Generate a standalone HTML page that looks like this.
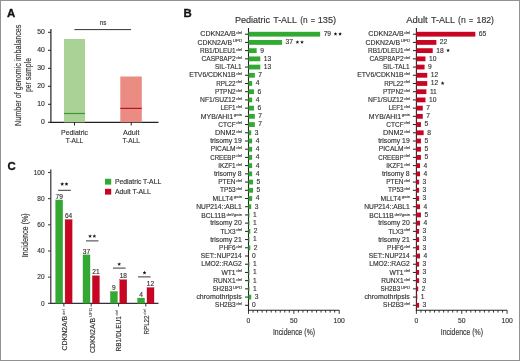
<!DOCTYPE html>
<html><head><meta charset="utf-8"><style>
html,body{margin:0;padding:0;background:#fff;}
#f{position:absolute;left:0;top:0;width:520px;height:361px;box-sizing:border-box;border:1px solid #929292;background:#fff;overflow:hidden;}
svg{position:absolute;left:-1px;top:-1px;will-change:transform;}
text{font-family:"Liberation Sans",sans-serif;}
</style></head><body><div id="f">
<svg width="520" height="361" viewBox="0 0 520 361">
<text x="7.00" y="17.10" font-size="11.4" text-anchor="start" fill="#111" stroke="#111" stroke-width="0.3" font-weight="bold">A</text>
<text x="183.60" y="17.30" font-size="11.4" text-anchor="start" fill="#111" stroke="#111" stroke-width="0.3" font-weight="bold">B</text>
<text x="7.40" y="170.30" font-size="11.4" text-anchor="start" fill="#111" stroke="#111" stroke-width="0.3" font-weight="bold">C</text>
<line x1="50.90" y1="29.00" x2="50.90" y2="122.90" stroke="#222" stroke-width="1.2"/>
<line x1="50.30" y1="122.30" x2="158.50" y2="122.30" stroke="#222" stroke-width="1.2"/>
<line x1="48.00" y1="122.30" x2="50.90" y2="122.30" stroke="#222" stroke-width="1"/>
<text x="44.80" y="124.40" font-size="6.8" text-anchor="end" fill="#333" stroke="#333" stroke-width="0.15" font-weight="normal">0</text>
<line x1="48.00" y1="104.30" x2="50.90" y2="104.30" stroke="#222" stroke-width="1"/>
<text x="44.80" y="106.40" font-size="6.8" text-anchor="end" fill="#333" stroke="#333" stroke-width="0.15" font-weight="normal">10</text>
<line x1="48.00" y1="86.30" x2="50.90" y2="86.30" stroke="#222" stroke-width="1"/>
<text x="44.80" y="88.40" font-size="6.8" text-anchor="end" fill="#333" stroke="#333" stroke-width="0.15" font-weight="normal">20</text>
<line x1="48.00" y1="68.30" x2="50.90" y2="68.30" stroke="#222" stroke-width="1"/>
<text x="44.80" y="70.40" font-size="6.8" text-anchor="end" fill="#333" stroke="#333" stroke-width="0.15" font-weight="normal">30</text>
<line x1="48.00" y1="50.30" x2="50.90" y2="50.30" stroke="#222" stroke-width="1"/>
<text x="44.80" y="52.40" font-size="6.8" text-anchor="end" fill="#333" stroke="#333" stroke-width="0.15" font-weight="normal">40</text>
<line x1="48.00" y1="32.30" x2="50.90" y2="32.30" stroke="#222" stroke-width="1"/>
<text x="44.80" y="34.40" font-size="6.8" text-anchor="end" fill="#333" stroke="#333" stroke-width="0.15" font-weight="normal">50</text>
<rect x="64.00" y="39.00" width="21.00" height="83.30" fill="#aad296"/>
<line x1="64.00" y1="113.50" x2="85.00" y2="113.50" stroke="#3c963c" stroke-width="1.2"/>
<rect x="120.30" y="76.50" width="21.50" height="45.80" fill="#eb8c82"/>
<line x1="120.30" y1="108.40" x2="141.80" y2="108.40" stroke="#b41428" stroke-width="1.2"/>
<line x1="74.50" y1="122.30" x2="74.50" y2="125.50" stroke="#222" stroke-width="1"/>
<line x1="131.20" y1="122.30" x2="131.20" y2="125.50" stroke="#222" stroke-width="1"/>
<line x1="74.40" y1="29.60" x2="131.10" y2="29.60" stroke="#333" stroke-width="1.0"/>
<text x="103.00" y="25.30" font-size="7.4" text-anchor="middle" fill="#333" stroke="#333" stroke-width="0.15" font-weight="normal" textLength="6.60" lengthAdjust="spacingAndGlyphs">ns</text>
<text x="74.50" y="134.90" font-size="7.4" text-anchor="middle" fill="#333" stroke="#333" stroke-width="0.15" font-weight="normal" textLength="27.00" lengthAdjust="spacingAndGlyphs">Pediatric</text>
<text x="74.50" y="142.70" font-size="7.4" text-anchor="middle" fill="#333" stroke="#333" stroke-width="0.15" font-weight="normal" textLength="17.50" lengthAdjust="spacingAndGlyphs">T-ALL</text>
<text x="131.20" y="134.90" font-size="7.4" text-anchor="middle" fill="#333" stroke="#333" stroke-width="0.15" font-weight="normal" textLength="16.40" lengthAdjust="spacingAndGlyphs">Adult</text>
<text x="131.20" y="142.70" font-size="7.4" text-anchor="middle" fill="#333" stroke="#333" stroke-width="0.15" font-weight="normal" textLength="17.50" lengthAdjust="spacingAndGlyphs">T-ALL</text>
<g transform="translate(20.8,75.3) rotate(-90)">
<text x="0.00" y="0.00" font-size="8.7" text-anchor="middle" fill="#333" stroke="#333" stroke-width="0.15" font-weight="normal" textLength="101.40" lengthAdjust="spacingAndGlyphs">Number of genomic imbalances</text>
</g>
<g transform="translate(31.1,75.0) rotate(-90)">
<text x="0.00" y="0.00" font-size="8.7" text-anchor="middle" fill="#333" stroke="#333" stroke-width="0.15" font-weight="normal" textLength="34.20" lengthAdjust="spacingAndGlyphs">per sample</text>
</g>
<line x1="50.80" y1="169.50" x2="50.80" y2="303.90" stroke="#3a2f3e" stroke-width="1.2"/>
<line x1="50.20" y1="303.30" x2="158.50" y2="303.30" stroke="#3a2f3e" stroke-width="1.2"/>
<line x1="48.00" y1="303.30" x2="50.80" y2="303.30" stroke="#3a2f3e" stroke-width="1"/>
<text x="44.60" y="305.60" font-size="7.0" text-anchor="end" fill="#333" stroke="#333" stroke-width="0.15" font-weight="normal" textLength="3.62" lengthAdjust="spacingAndGlyphs">0</text>
<line x1="48.00" y1="277.14" x2="50.80" y2="277.14" stroke="#3a2f3e" stroke-width="1"/>
<text x="44.60" y="279.44" font-size="7.0" text-anchor="end" fill="#333" stroke="#333" stroke-width="0.15" font-weight="normal" textLength="7.24" lengthAdjust="spacingAndGlyphs">20</text>
<line x1="48.00" y1="250.98" x2="50.80" y2="250.98" stroke="#3a2f3e" stroke-width="1"/>
<text x="44.60" y="253.28" font-size="7.0" text-anchor="end" fill="#333" stroke="#333" stroke-width="0.15" font-weight="normal" textLength="7.24" lengthAdjust="spacingAndGlyphs">40</text>
<line x1="48.00" y1="224.82" x2="50.80" y2="224.82" stroke="#3a2f3e" stroke-width="1"/>
<text x="44.60" y="227.12" font-size="7.0" text-anchor="end" fill="#333" stroke="#333" stroke-width="0.15" font-weight="normal" textLength="7.24" lengthAdjust="spacingAndGlyphs">60</text>
<line x1="48.00" y1="198.66" x2="50.80" y2="198.66" stroke="#3a2f3e" stroke-width="1"/>
<text x="44.60" y="200.96" font-size="7.0" text-anchor="end" fill="#333" stroke="#333" stroke-width="0.15" font-weight="normal" textLength="7.24" lengthAdjust="spacingAndGlyphs">80</text>
<line x1="48.00" y1="172.50" x2="50.80" y2="172.50" stroke="#3a2f3e" stroke-width="1"/>
<text x="44.60" y="174.80" font-size="7.0" text-anchor="end" fill="#333" stroke="#333" stroke-width="0.15" font-weight="normal" textLength="10.86" lengthAdjust="spacingAndGlyphs">100</text>
<rect x="55.70" y="199.97" width="7.00" height="103.33" fill="#32aa32" stroke="#3a8f3a" stroke-width="0.35"/>
<rect x="65.10" y="219.59" width="7.00" height="83.71" fill="#c80523" stroke="#a8101f" stroke-width="0.35"/>
<text x="59.20" y="198.57" font-size="6.8" text-anchor="middle" fill="#333" stroke="#333" stroke-width="0.15" font-weight="normal" textLength="7.34" lengthAdjust="spacingAndGlyphs">79</text>
<text x="68.60" y="218.19" font-size="6.8" text-anchor="middle" fill="#333" stroke="#333" stroke-width="0.15" font-weight="normal" textLength="7.34" lengthAdjust="spacingAndGlyphs">64</text>
<line x1="63.90" y1="303.30" x2="63.90" y2="306.50" stroke="#3a2f3e" stroke-width="1"/>
<line x1="58.10" y1="190.30" x2="70.90" y2="190.30" stroke="#222" stroke-width="0.9"/>
<polygon points="62.20,182.10 62.73,183.37 64.10,183.48 63.06,184.38 63.38,185.72 62.20,185.00 61.02,185.72 61.34,184.38 60.30,183.48 61.67,183.37" fill="#1a1a1a"/>
<polygon points="66.50,182.10 67.03,183.37 68.40,183.48 67.36,184.38 67.68,185.72 66.50,185.00 65.32,185.72 65.64,184.38 64.60,183.48 65.97,183.37" fill="#1a1a1a"/>
<rect x="83.00" y="254.90" width="7.00" height="48.40" fill="#32aa32" stroke="#3a8f3a" stroke-width="0.35"/>
<rect x="92.40" y="275.83" width="7.00" height="27.47" fill="#c80523" stroke="#a8101f" stroke-width="0.35"/>
<text x="86.50" y="253.50" font-size="6.8" text-anchor="middle" fill="#333" stroke="#333" stroke-width="0.15" font-weight="normal" textLength="7.34" lengthAdjust="spacingAndGlyphs">37</text>
<text x="95.90" y="274.43" font-size="6.8" text-anchor="middle" fill="#333" stroke="#333" stroke-width="0.15" font-weight="normal" textLength="7.34" lengthAdjust="spacingAndGlyphs">21</text>
<line x1="91.20" y1="303.30" x2="91.20" y2="306.50" stroke="#3a2f3e" stroke-width="1"/>
<line x1="86.00" y1="240.90" x2="98.50" y2="240.90" stroke="#222" stroke-width="0.9"/>
<polygon points="90.05,234.20 90.58,235.47 91.95,235.58 90.91,236.48 91.23,237.82 90.05,237.10 88.87,237.82 89.19,236.48 88.15,235.58 89.52,235.47" fill="#1a1a1a"/>
<polygon points="94.35,234.20 94.88,235.47 96.25,235.58 95.21,236.48 95.53,237.82 94.35,237.10 93.17,237.82 93.49,236.48 92.45,235.58 93.82,235.47" fill="#1a1a1a"/>
<rect x="110.40" y="291.53" width="7.00" height="11.77" fill="#32aa32" stroke="#3a8f3a" stroke-width="0.35"/>
<rect x="119.80" y="279.76" width="7.00" height="23.54" fill="#c80523" stroke="#a8101f" stroke-width="0.35"/>
<text x="113.90" y="290.13" font-size="6.8" text-anchor="middle" fill="#333" stroke="#333" stroke-width="0.15" font-weight="normal" textLength="3.67" lengthAdjust="spacingAndGlyphs">9</text>
<text x="123.30" y="278.36" font-size="6.8" text-anchor="middle" fill="#333" stroke="#333" stroke-width="0.15" font-weight="normal" textLength="7.34" lengthAdjust="spacingAndGlyphs">18</text>
<line x1="118.60" y1="303.30" x2="118.60" y2="306.50" stroke="#3a2f3e" stroke-width="1"/>
<line x1="113.00" y1="268.10" x2="125.60" y2="268.10" stroke="#222" stroke-width="0.9"/>
<polygon points="119.20,262.20 119.73,263.47 121.10,263.58 120.06,264.48 120.38,265.82 119.20,265.10 118.02,265.82 118.34,264.48 117.30,263.58 118.67,263.47" fill="#1a1a1a"/>
<rect x="137.60" y="298.07" width="7.00" height="5.23" fill="#32aa32" stroke="#3a8f3a" stroke-width="0.35"/>
<rect x="147.00" y="287.60" width="7.00" height="15.70" fill="#c80523" stroke="#a8101f" stroke-width="0.35"/>
<text x="141.10" y="296.67" font-size="6.8" text-anchor="middle" fill="#333" stroke="#333" stroke-width="0.15" font-weight="normal" textLength="3.67" lengthAdjust="spacingAndGlyphs">4</text>
<text x="150.50" y="286.20" font-size="6.8" text-anchor="middle" fill="#333" stroke="#333" stroke-width="0.15" font-weight="normal" textLength="7.34" lengthAdjust="spacingAndGlyphs">12</text>
<line x1="145.80" y1="303.30" x2="145.80" y2="306.50" stroke="#3a2f3e" stroke-width="1"/>
<line x1="138.00" y1="276.90" x2="150.60" y2="276.90" stroke="#222" stroke-width="0.9"/>
<polygon points="144.50,270.80 145.03,272.07 146.40,272.18 145.36,273.08 145.68,274.42 144.50,273.70 143.32,274.42 143.64,273.08 142.60,272.18 143.97,272.07" fill="#1a1a1a"/>
<rect x="105.00" y="178.80" width="6.20" height="5.80" fill="#32aa32"/>
<rect x="105.00" y="188.80" width="6.20" height="5.80" fill="#c80523"/>
<text x="114.90" y="184.10" font-size="6.9" text-anchor="start" fill="#333" stroke="#333" stroke-width="0.15" font-weight="normal" textLength="46.30" lengthAdjust="spacingAndGlyphs">Pediatric T-ALL</text>
<text x="114.90" y="194.30" font-size="6.9" text-anchor="start" fill="#333" stroke="#333" stroke-width="0.15" font-weight="normal" textLength="35.90" lengthAdjust="spacingAndGlyphs">Adult T-ALL</text>
<g transform="translate(28.4,235.3) rotate(-90)">
<text x="0.00" y="0.00" font-size="8.4" text-anchor="middle" fill="#333" stroke="#333" stroke-width="0.15" font-weight="normal" textLength="44.00" lengthAdjust="spacingAndGlyphs">Incidence (%)</text>
</g>
<g transform="translate(67.20,350.40) rotate(-90)">
<text x="0" y="0" font-size="7.0" fill="#333" stroke="#333" stroke-width="0.15"><tspan textLength="34.6" lengthAdjust="spacingAndGlyphs">CDKN2A/B</tspan><tspan font-size="4.2" dx="0.8" dy="-2.6" stroke-width="0.05">del</tspan></text>
</g>
<g transform="translate(94.80,353.00) rotate(-90)">
<text x="0" y="0" font-size="7.0" fill="#333" stroke="#333" stroke-width="0.15"><tspan textLength="35.3" lengthAdjust="spacingAndGlyphs">CDKN2A/B</tspan><tspan font-size="4.2" dx="0.8" dy="-2.6" stroke-width="0.05">UPD</tspan></text>
</g>
<g transform="translate(121.00,351.50) rotate(-90)">
<text x="0" y="0" font-size="7.0" fill="#333" stroke="#333" stroke-width="0.15"><tspan textLength="35.3" lengthAdjust="spacingAndGlyphs">RB1/DLEU1</tspan><tspan font-size="4.2" dx="0.8" dy="-2.6" stroke-width="0.05">del</tspan></text>
</g>
<g transform="translate(149.00,334.50) rotate(-90)">
<text x="0" y="0" font-size="7.0" fill="#333" stroke="#333" stroke-width="0.15"><tspan textLength="19.0" lengthAdjust="spacingAndGlyphs">RPL22</tspan><tspan font-size="4.2" dx="0.8" dy="-2.6" stroke-width="0.05">del</tspan></text>
</g>
<text x="234.90" y="22.90" font-size="9.4" text-anchor="start" fill="#333" stroke="#333" stroke-width="0.15" font-weight="normal" textLength="35.20" lengthAdjust="spacingAndGlyphs">Pediatric</text>
<text x="273.20" y="22.90" font-size="9.4" text-anchor="start" fill="#333" stroke="#333" stroke-width="0.15" font-weight="normal" textLength="23.78" lengthAdjust="spacingAndGlyphs">T-ALL</text>
<text x="300.30" y="22.90" font-size="9.4" text-anchor="start" fill="#333" stroke="#333" stroke-width="0.15" font-weight="normal" textLength="7.39" lengthAdjust="spacingAndGlyphs">(n</text>
<text x="310.80" y="22.90" font-size="9.4" text-anchor="start" fill="#333" stroke="#333" stroke-width="0.15" font-weight="normal" textLength="4.23" lengthAdjust="spacingAndGlyphs">=</text>
<text x="317.70" y="22.90" font-size="9.4" text-anchor="start" fill="#333" stroke="#333" stroke-width="0.15" font-weight="normal" textLength="18.51" lengthAdjust="spacingAndGlyphs">135)</text>
<line x1="248.50" y1="27.90" x2="248.50" y2="310.80" stroke="#222" stroke-width="1.1"/>
<line x1="248.00" y1="310.20" x2="339.20" y2="310.20" stroke="#222" stroke-width="1.1"/>
<line x1="248.50" y1="310.20" x2="248.50" y2="313.80" stroke="#222" stroke-width="0.9"/>
<line x1="253.03" y1="310.20" x2="253.03" y2="312.60" stroke="#222" stroke-width="0.9"/>
<line x1="257.57" y1="310.20" x2="257.57" y2="312.60" stroke="#222" stroke-width="0.9"/>
<line x1="262.11" y1="310.20" x2="262.11" y2="312.60" stroke="#222" stroke-width="0.9"/>
<line x1="266.64" y1="310.20" x2="266.64" y2="312.60" stroke="#222" stroke-width="0.9"/>
<line x1="271.18" y1="310.20" x2="271.18" y2="312.60" stroke="#222" stroke-width="0.9"/>
<line x1="275.71" y1="310.20" x2="275.71" y2="312.60" stroke="#222" stroke-width="0.9"/>
<line x1="280.25" y1="310.20" x2="280.25" y2="312.60" stroke="#222" stroke-width="0.9"/>
<line x1="284.78" y1="310.20" x2="284.78" y2="312.60" stroke="#222" stroke-width="0.9"/>
<line x1="289.31" y1="310.20" x2="289.31" y2="312.60" stroke="#222" stroke-width="0.9"/>
<line x1="293.85" y1="310.20" x2="293.85" y2="313.80" stroke="#222" stroke-width="0.9"/>
<line x1="298.38" y1="310.20" x2="298.38" y2="312.60" stroke="#222" stroke-width="0.9"/>
<line x1="302.92" y1="310.20" x2="302.92" y2="312.60" stroke="#222" stroke-width="0.9"/>
<line x1="307.45" y1="310.20" x2="307.45" y2="312.60" stroke="#222" stroke-width="0.9"/>
<line x1="311.99" y1="310.20" x2="311.99" y2="312.60" stroke="#222" stroke-width="0.9"/>
<line x1="316.52" y1="310.20" x2="316.52" y2="312.60" stroke="#222" stroke-width="0.9"/>
<line x1="321.06" y1="310.20" x2="321.06" y2="312.60" stroke="#222" stroke-width="0.9"/>
<line x1="325.60" y1="310.20" x2="325.60" y2="312.60" stroke="#222" stroke-width="0.9"/>
<line x1="330.13" y1="310.20" x2="330.13" y2="312.60" stroke="#222" stroke-width="0.9"/>
<line x1="334.66" y1="310.20" x2="334.66" y2="312.60" stroke="#222" stroke-width="0.9"/>
<line x1="339.20" y1="310.20" x2="339.20" y2="313.80" stroke="#222" stroke-width="0.9"/>
<text x="248.50" y="323.00" font-size="7.0" text-anchor="middle" fill="#333" stroke="#333" stroke-width="0.15" font-weight="normal" textLength="3.78" lengthAdjust="spacingAndGlyphs">0</text>
<text x="293.85" y="323.00" font-size="7.0" text-anchor="middle" fill="#333" stroke="#333" stroke-width="0.15" font-weight="normal" textLength="7.55" lengthAdjust="spacingAndGlyphs">50</text>
<text x="339.20" y="323.00" font-size="7.0" text-anchor="middle" fill="#333" stroke="#333" stroke-width="0.15" font-weight="normal" textLength="11.33" lengthAdjust="spacingAndGlyphs">100</text>
<text x="272.90" y="334.90" font-size="8.4" text-anchor="start" fill="#333" stroke="#333" stroke-width="0.15" font-weight="normal" textLength="42.22" lengthAdjust="spacingAndGlyphs">Incidence (%)</text>
<line x1="245.00" y1="34.20" x2="248.50" y2="34.20" stroke="#222" stroke-width="1"/>
<rect x="248.50" y="31.80" width="71.65" height="4.80" fill="#32aa32"/>
<text x="323.65" y="36.10" font-size="7.2" text-anchor="start" fill="#333" stroke="#333" stroke-width="0.15" font-weight="normal" textLength="7.45" lengthAdjust="spacingAndGlyphs">79</text>
<polygon points="335.50,32.05 336.02,33.29 337.35,33.40 336.33,34.27 336.65,35.58 335.50,34.88 334.35,35.58 334.67,34.27 333.65,33.40 334.98,33.29" fill="#1a1a1a"/>
<polygon points="340.10,32.05 340.62,33.29 341.95,33.40 340.93,34.27 341.25,35.58 340.10,34.88 338.95,35.58 339.27,34.27 338.25,33.40 339.58,33.29" fill="#1a1a1a"/>
<text x="200.30" y="36.40" font-size="7.0" fill="#333" stroke="#333" stroke-width="0.15"><tspan textLength="35.30" lengthAdjust="spacingAndGlyphs">CDKN2A/B</tspan><tspan font-size="3.9" dx="0.6" dy="-2.3" stroke-width="0.1" textLength="6.00" lengthAdjust="spacingAndGlyphs">del</tspan></text>
<line x1="245.00" y1="42.42" x2="248.50" y2="42.42" stroke="#222" stroke-width="1"/>
<rect x="248.50" y="40.02" width="33.56" height="4.80" fill="#32aa32"/>
<text x="285.56" y="44.32" font-size="7.2" text-anchor="start" fill="#333" stroke="#333" stroke-width="0.15" font-weight="normal" textLength="7.45" lengthAdjust="spacingAndGlyphs">37</text>
<polygon points="297.41,40.27 297.92,41.51 299.26,41.61 298.24,42.49 298.55,43.79 297.41,43.09 296.26,43.79 296.57,42.49 295.55,41.61 296.89,41.51" fill="#1a1a1a"/>
<polygon points="302.01,40.27 302.52,41.51 303.86,41.61 302.84,42.49 303.15,43.79 302.01,43.09 300.86,43.79 301.17,42.49 300.15,41.61 301.49,41.51" fill="#1a1a1a"/>
<text x="197.50" y="44.62" font-size="7.0" fill="#333" stroke="#333" stroke-width="0.15"><tspan textLength="34.60" lengthAdjust="spacingAndGlyphs">CDKN2A/B</tspan><tspan font-size="3.9" dx="0.6" dy="-2.3" stroke-width="0.1" textLength="9.50" lengthAdjust="spacingAndGlyphs">UPD</tspan></text>
<line x1="245.00" y1="50.63" x2="248.50" y2="50.63" stroke="#222" stroke-width="1"/>
<rect x="248.50" y="48.23" width="8.16" height="4.80" fill="#32aa32"/>
<text x="260.16" y="52.53" font-size="7.2" text-anchor="start" fill="#333" stroke="#333" stroke-width="0.15" font-weight="normal" textLength="3.72" lengthAdjust="spacingAndGlyphs">9</text>
<text x="200.00" y="52.83" font-size="7.0" fill="#333" stroke="#333" stroke-width="0.15"><tspan textLength="35.60" lengthAdjust="spacingAndGlyphs">RB1/DLEU1</tspan><tspan font-size="3.9" dx="0.6" dy="-2.3" stroke-width="0.1" textLength="6.00" lengthAdjust="spacingAndGlyphs">del</tspan></text>
<line x1="245.00" y1="58.84" x2="248.50" y2="58.84" stroke="#222" stroke-width="1"/>
<rect x="248.50" y="56.45" width="11.79" height="4.80" fill="#32aa32"/>
<text x="263.79" y="60.74" font-size="7.2" text-anchor="start" fill="#333" stroke="#333" stroke-width="0.15" font-weight="normal" textLength="7.45" lengthAdjust="spacingAndGlyphs">13</text>
<text x="201.60" y="61.05" font-size="7.0" fill="#333" stroke="#333" stroke-width="0.15"><tspan textLength="34.00" lengthAdjust="spacingAndGlyphs">CASP8AP2</tspan><tspan font-size="3.9" dx="0.6" dy="-2.3" stroke-width="0.1" textLength="6.00" lengthAdjust="spacingAndGlyphs">del</tspan></text>
<line x1="245.00" y1="67.06" x2="248.50" y2="67.06" stroke="#222" stroke-width="1"/>
<rect x="248.50" y="64.66" width="11.79" height="4.80" fill="#32aa32"/>
<text x="263.79" y="68.96" font-size="7.2" text-anchor="start" fill="#333" stroke="#333" stroke-width="0.15" font-weight="normal" textLength="7.45" lengthAdjust="spacingAndGlyphs">13</text>
<text x="215.10" y="69.26" font-size="7.0" text-anchor="start" fill="#333" stroke="#333" stroke-width="0.15" font-weight="normal" textLength="26.60" lengthAdjust="spacingAndGlyphs">SIL-TAL1</text>
<line x1="245.00" y1="75.28" x2="248.50" y2="75.28" stroke="#222" stroke-width="1"/>
<rect x="248.50" y="72.88" width="6.35" height="4.80" fill="#32aa32"/>
<text x="258.35" y="77.18" font-size="7.2" text-anchor="start" fill="#333" stroke="#333" stroke-width="0.15" font-weight="normal" textLength="3.72" lengthAdjust="spacingAndGlyphs">7</text>
<text x="189.20" y="77.48" font-size="7.0" fill="#333" stroke="#333" stroke-width="0.15"><tspan textLength="46.40" lengthAdjust="spacingAndGlyphs">ETV6/CDKN1B</tspan><tspan font-size="3.9" dx="0.6" dy="-2.3" stroke-width="0.1" textLength="6.00" lengthAdjust="spacingAndGlyphs">del</tspan></text>
<line x1="245.00" y1="83.49" x2="248.50" y2="83.49" stroke="#222" stroke-width="1"/>
<rect x="248.50" y="81.09" width="3.63" height="4.80" fill="#32aa32"/>
<text x="255.63" y="85.39" font-size="7.2" text-anchor="start" fill="#333" stroke="#333" stroke-width="0.15" font-weight="normal" textLength="3.72" lengthAdjust="spacingAndGlyphs">4</text>
<text x="216.20" y="85.69" font-size="7.0" fill="#333" stroke="#333" stroke-width="0.15"><tspan textLength="19.40" lengthAdjust="spacingAndGlyphs">RPL22</tspan><tspan font-size="3.9" dx="0.6" dy="-2.3" stroke-width="0.1" textLength="6.00" lengthAdjust="spacingAndGlyphs">del</tspan></text>
<line x1="245.00" y1="91.70" x2="248.50" y2="91.70" stroke="#222" stroke-width="1"/>
<rect x="248.50" y="89.30" width="5.44" height="4.80" fill="#32aa32"/>
<text x="257.44" y="93.61" font-size="7.2" text-anchor="start" fill="#333" stroke="#333" stroke-width="0.15" font-weight="normal" textLength="3.72" lengthAdjust="spacingAndGlyphs">6</text>
<text x="214.90" y="93.91" font-size="7.0" fill="#333" stroke="#333" stroke-width="0.15"><tspan textLength="20.70" lengthAdjust="spacingAndGlyphs">PTPN2</tspan><tspan font-size="3.9" dx="0.6" dy="-2.3" stroke-width="0.1" textLength="6.00" lengthAdjust="spacingAndGlyphs">del</tspan></text>
<line x1="245.00" y1="99.92" x2="248.50" y2="99.92" stroke="#222" stroke-width="1"/>
<rect x="248.50" y="97.52" width="3.63" height="4.80" fill="#32aa32"/>
<text x="255.63" y="101.82" font-size="7.2" text-anchor="start" fill="#333" stroke="#333" stroke-width="0.15" font-weight="normal" textLength="3.72" lengthAdjust="spacingAndGlyphs">4</text>
<text x="200.10" y="102.12" font-size="7.0" fill="#333" stroke="#333" stroke-width="0.15"><tspan textLength="35.50" lengthAdjust="spacingAndGlyphs">NF1/SUZ12</tspan><tspan font-size="3.9" dx="0.6" dy="-2.3" stroke-width="0.1" textLength="6.00" lengthAdjust="spacingAndGlyphs">del</tspan></text>
<line x1="245.00" y1="108.14" x2="248.50" y2="108.14" stroke="#222" stroke-width="1"/>
<rect x="248.50" y="105.73" width="5.44" height="4.80" fill="#32aa32"/>
<text x="257.44" y="110.04" font-size="7.2" text-anchor="start" fill="#333" stroke="#333" stroke-width="0.15" font-weight="normal" textLength="3.72" lengthAdjust="spacingAndGlyphs">6</text>
<text x="220.50" y="110.34" font-size="7.0" fill="#333" stroke="#333" stroke-width="0.15"><tspan textLength="15.10" lengthAdjust="spacingAndGlyphs">LEF1</tspan><tspan font-size="3.9" dx="0.6" dy="-2.3" stroke-width="0.1" textLength="6.00" lengthAdjust="spacingAndGlyphs">del</tspan></text>
<line x1="245.00" y1="116.35" x2="248.50" y2="116.35" stroke="#222" stroke-width="1"/>
<rect x="248.50" y="113.95" width="6.35" height="4.80" fill="#32aa32"/>
<text x="258.35" y="118.25" font-size="7.2" text-anchor="start" fill="#333" stroke="#333" stroke-width="0.15" font-weight="normal" textLength="3.72" lengthAdjust="spacingAndGlyphs">7</text>
<text x="200.80" y="118.55" font-size="7.0" fill="#333" stroke="#333" stroke-width="0.15"><tspan textLength="32.29" lengthAdjust="spacingAndGlyphs">MYB/AHI1</tspan><tspan font-size="3.9" dx="0.6" dy="-2.3" stroke-width="0.1" textLength="8.51" lengthAdjust="spacingAndGlyphs">gain</tspan></text>
<line x1="245.00" y1="124.56" x2="248.50" y2="124.56" stroke="#222" stroke-width="1"/>
<rect x="248.50" y="122.16" width="6.35" height="4.80" fill="#32aa32"/>
<text x="258.35" y="126.47" font-size="7.2" text-anchor="start" fill="#333" stroke="#333" stroke-width="0.15" font-weight="normal" textLength="3.72" lengthAdjust="spacingAndGlyphs">7</text>
<text x="218.30" y="126.77" font-size="7.0" fill="#333" stroke="#333" stroke-width="0.15"><tspan textLength="17.30" lengthAdjust="spacingAndGlyphs">CTCF</tspan><tspan font-size="3.9" dx="0.6" dy="-2.3" stroke-width="0.1" textLength="6.00" lengthAdjust="spacingAndGlyphs">del</tspan></text>
<line x1="245.00" y1="132.78" x2="248.50" y2="132.78" stroke="#222" stroke-width="1"/>
<rect x="248.50" y="130.38" width="2.72" height="4.80" fill="#32aa32"/>
<text x="254.72" y="134.68" font-size="7.2" text-anchor="start" fill="#333" stroke="#333" stroke-width="0.15" font-weight="normal" textLength="3.72" lengthAdjust="spacingAndGlyphs">3</text>
<text x="215.10" y="134.98" font-size="7.0" fill="#333" stroke="#333" stroke-width="0.15"><tspan textLength="20.50" lengthAdjust="spacingAndGlyphs">DNM2</tspan><tspan font-size="3.9" dx="0.6" dy="-2.3" stroke-width="0.1" textLength="6.00" lengthAdjust="spacingAndGlyphs">del</tspan></text>
<line x1="245.00" y1="141.00" x2="248.50" y2="141.00" stroke="#222" stroke-width="1"/>
<rect x="248.50" y="138.59" width="3.63" height="4.80" fill="#32aa32"/>
<text x="255.63" y="142.90" font-size="7.2" text-anchor="start" fill="#333" stroke="#333" stroke-width="0.15" font-weight="normal" textLength="3.72" lengthAdjust="spacingAndGlyphs">4</text>
<text x="210.20" y="143.19" font-size="7.0" text-anchor="start" fill="#333" stroke="#333" stroke-width="0.15" font-weight="normal" textLength="31.50" lengthAdjust="spacingAndGlyphs">trisomy 19</text>
<line x1="245.00" y1="149.21" x2="248.50" y2="149.21" stroke="#222" stroke-width="1"/>
<rect x="248.50" y="146.81" width="3.63" height="4.80" fill="#32aa32"/>
<text x="255.63" y="151.11" font-size="7.2" text-anchor="start" fill="#333" stroke="#333" stroke-width="0.15" font-weight="normal" textLength="3.72" lengthAdjust="spacingAndGlyphs">4</text>
<text x="210.80" y="151.41" font-size="7.0" fill="#333" stroke="#333" stroke-width="0.15"><tspan textLength="24.80" lengthAdjust="spacingAndGlyphs">PICALM</tspan><tspan font-size="3.9" dx="0.6" dy="-2.3" stroke-width="0.1" textLength="6.00" lengthAdjust="spacingAndGlyphs">del</tspan></text>
<line x1="245.00" y1="157.43" x2="248.50" y2="157.43" stroke="#222" stroke-width="1"/>
<rect x="248.50" y="155.03" width="3.63" height="4.80" fill="#32aa32"/>
<text x="255.63" y="159.33" font-size="7.2" text-anchor="start" fill="#333" stroke="#333" stroke-width="0.15" font-weight="normal" textLength="3.72" lengthAdjust="spacingAndGlyphs">4</text>
<text x="210.20" y="159.62" font-size="7.0" fill="#333" stroke="#333" stroke-width="0.15"><tspan textLength="25.40" lengthAdjust="spacingAndGlyphs">CREEBP</tspan><tspan font-size="3.9" dx="0.6" dy="-2.3" stroke-width="0.1" textLength="6.00" lengthAdjust="spacingAndGlyphs">del</tspan></text>
<line x1="245.00" y1="165.64" x2="248.50" y2="165.64" stroke="#222" stroke-width="1"/>
<rect x="248.50" y="163.24" width="3.63" height="4.80" fill="#32aa32"/>
<text x="255.63" y="167.54" font-size="7.2" text-anchor="start" fill="#333" stroke="#333" stroke-width="0.15" font-weight="normal" textLength="3.72" lengthAdjust="spacingAndGlyphs">4</text>
<text x="218.20" y="167.84" font-size="7.0" fill="#333" stroke="#333" stroke-width="0.15"><tspan textLength="17.40" lengthAdjust="spacingAndGlyphs">IKZF1</tspan><tspan font-size="3.9" dx="0.6" dy="-2.3" stroke-width="0.1" textLength="6.00" lengthAdjust="spacingAndGlyphs">del</tspan></text>
<line x1="245.00" y1="173.86" x2="248.50" y2="173.86" stroke="#222" stroke-width="1"/>
<rect x="248.50" y="171.46" width="3.63" height="4.80" fill="#32aa32"/>
<text x="255.63" y="175.76" font-size="7.2" text-anchor="start" fill="#333" stroke="#333" stroke-width="0.15" font-weight="normal" textLength="3.72" lengthAdjust="spacingAndGlyphs">4</text>
<text x="213.90" y="176.06" font-size="7.0" text-anchor="start" fill="#333" stroke="#333" stroke-width="0.15" font-weight="normal" textLength="27.80" lengthAdjust="spacingAndGlyphs">trisomy 8</text>
<line x1="245.00" y1="182.07" x2="248.50" y2="182.07" stroke="#222" stroke-width="1"/>
<rect x="248.50" y="179.67" width="4.54" height="4.80" fill="#32aa32"/>
<text x="256.53" y="183.97" font-size="7.2" text-anchor="start" fill="#333" stroke="#333" stroke-width="0.15" font-weight="normal" textLength="3.72" lengthAdjust="spacingAndGlyphs">5</text>
<text x="218.20" y="184.27" font-size="7.0" fill="#333" stroke="#333" stroke-width="0.15"><tspan textLength="17.40" lengthAdjust="spacingAndGlyphs">PTEN</tspan><tspan font-size="3.9" dx="0.6" dy="-2.3" stroke-width="0.1" textLength="6.00" lengthAdjust="spacingAndGlyphs">del</tspan></text>
<line x1="245.00" y1="190.29" x2="248.50" y2="190.29" stroke="#222" stroke-width="1"/>
<rect x="248.50" y="187.89" width="4.54" height="4.80" fill="#32aa32"/>
<text x="256.53" y="192.19" font-size="7.2" text-anchor="start" fill="#333" stroke="#333" stroke-width="0.15" font-weight="normal" textLength="3.72" lengthAdjust="spacingAndGlyphs">5</text>
<text x="220.10" y="192.49" font-size="7.0" fill="#333" stroke="#333" stroke-width="0.15"><tspan textLength="15.50" lengthAdjust="spacingAndGlyphs">TP53</tspan><tspan font-size="3.9" dx="0.6" dy="-2.3" stroke-width="0.1" textLength="6.00" lengthAdjust="spacingAndGlyphs">del</tspan></text>
<line x1="245.00" y1="198.50" x2="248.50" y2="198.50" stroke="#222" stroke-width="1"/>
<rect x="248.50" y="196.10" width="3.63" height="4.80" fill="#32aa32"/>
<text x="255.63" y="200.40" font-size="7.2" text-anchor="start" fill="#333" stroke="#333" stroke-width="0.15" font-weight="normal" textLength="3.72" lengthAdjust="spacingAndGlyphs">4</text>
<text x="212.60" y="200.70" font-size="7.0" fill="#333" stroke="#333" stroke-width="0.15"><tspan textLength="20.49" lengthAdjust="spacingAndGlyphs">MLLT4</tspan><tspan font-size="3.9" dx="0.6" dy="-2.3" stroke-width="0.1" textLength="8.51" lengthAdjust="spacingAndGlyphs">gain</tspan></text>
<line x1="245.00" y1="206.71" x2="248.50" y2="206.71" stroke="#222" stroke-width="1"/>
<rect x="248.50" y="204.31" width="2.72" height="4.80" fill="#32aa32"/>
<text x="254.72" y="208.61" font-size="7.2" text-anchor="start" fill="#333" stroke="#333" stroke-width="0.15" font-weight="normal" textLength="3.72" lengthAdjust="spacingAndGlyphs">3</text>
<text x="196.20" y="208.91" font-size="7.0" text-anchor="start" fill="#333" stroke="#333" stroke-width="0.15" font-weight="normal" textLength="45.50" lengthAdjust="spacingAndGlyphs">NUP214::ABL1</text>
<line x1="245.00" y1="214.93" x2="248.50" y2="214.93" stroke="#222" stroke-width="1"/>
<rect x="248.50" y="212.53" width="0.91" height="4.80" fill="#32aa32"/>
<text x="252.91" y="216.83" font-size="7.2" text-anchor="start" fill="#333" stroke="#333" stroke-width="0.15" font-weight="normal" textLength="3.72" lengthAdjust="spacingAndGlyphs">1</text>
<text x="201.20" y="218.33" font-size="7.0" fill="#333" stroke="#333" stroke-width="0.15"><tspan textLength="24.64" lengthAdjust="spacingAndGlyphs">BCL11B</tspan><tspan font-size="3.9" dx="0.6" dy="-2.3" stroke-width="0.1" textLength="15.76" lengthAdjust="spacingAndGlyphs">del/gain</tspan></text>
<line x1="245.00" y1="223.14" x2="248.50" y2="223.14" stroke="#222" stroke-width="1"/>
<rect x="248.50" y="220.74" width="0.91" height="4.80" fill="#32aa32"/>
<text x="252.91" y="225.04" font-size="7.2" text-anchor="start" fill="#333" stroke="#333" stroke-width="0.15" font-weight="normal" textLength="3.72" lengthAdjust="spacingAndGlyphs">1</text>
<text x="210.20" y="225.34" font-size="7.0" text-anchor="start" fill="#333" stroke="#333" stroke-width="0.15" font-weight="normal" textLength="31.50" lengthAdjust="spacingAndGlyphs">trisomy 20</text>
<line x1="245.00" y1="231.36" x2="248.50" y2="231.36" stroke="#222" stroke-width="1"/>
<rect x="248.50" y="228.96" width="1.81" height="4.80" fill="#32aa32"/>
<text x="253.81" y="233.26" font-size="7.2" text-anchor="start" fill="#333" stroke="#333" stroke-width="0.15" font-weight="normal" textLength="3.72" lengthAdjust="spacingAndGlyphs">2</text>
<text x="220.50" y="233.56" font-size="7.0" fill="#333" stroke="#333" stroke-width="0.15"><tspan textLength="15.10" lengthAdjust="spacingAndGlyphs">TLX3</tspan><tspan font-size="3.9" dx="0.6" dy="-2.3" stroke-width="0.1" textLength="6.00" lengthAdjust="spacingAndGlyphs">del</tspan></text>
<line x1="245.00" y1="239.57" x2="248.50" y2="239.57" stroke="#222" stroke-width="1"/>
<rect x="248.50" y="237.17" width="0.91" height="4.80" fill="#32aa32"/>
<text x="252.91" y="241.47" font-size="7.2" text-anchor="start" fill="#333" stroke="#333" stroke-width="0.15" font-weight="normal" textLength="3.72" lengthAdjust="spacingAndGlyphs">1</text>
<text x="210.20" y="241.77" font-size="7.0" text-anchor="start" fill="#333" stroke="#333" stroke-width="0.15" font-weight="normal" textLength="31.50" lengthAdjust="spacingAndGlyphs">trisomy 21</text>
<line x1="245.00" y1="247.79" x2="248.50" y2="247.79" stroke="#222" stroke-width="1"/>
<rect x="248.50" y="245.39" width="1.81" height="4.80" fill="#32aa32"/>
<text x="253.81" y="249.69" font-size="7.2" text-anchor="start" fill="#333" stroke="#333" stroke-width="0.15" font-weight="normal" textLength="3.72" lengthAdjust="spacingAndGlyphs">2</text>
<text x="219.10" y="249.99" font-size="7.0" fill="#333" stroke="#333" stroke-width="0.15"><tspan textLength="16.50" lengthAdjust="spacingAndGlyphs">PHF6</tspan><tspan font-size="3.9" dx="0.6" dy="-2.3" stroke-width="0.1" textLength="6.00" lengthAdjust="spacingAndGlyphs">del</tspan></text>
<line x1="245.00" y1="256.00" x2="248.50" y2="256.00" stroke="#222" stroke-width="1"/>
<text x="252.00" y="257.90" font-size="7.2" text-anchor="start" fill="#333" stroke="#333" stroke-width="0.15" font-weight="normal" textLength="3.72" lengthAdjust="spacingAndGlyphs">0</text>
<text x="200.80" y="258.20" font-size="7.0" text-anchor="start" fill="#333" stroke="#333" stroke-width="0.15" font-weight="normal" textLength="40.90" lengthAdjust="spacingAndGlyphs">SET::NUP214</text>
<line x1="245.00" y1="264.22" x2="248.50" y2="264.22" stroke="#222" stroke-width="1"/>
<rect x="248.50" y="261.82" width="0.91" height="4.80" fill="#32aa32"/>
<text x="252.91" y="266.12" font-size="7.2" text-anchor="start" fill="#333" stroke="#333" stroke-width="0.15" font-weight="normal" textLength="3.72" lengthAdjust="spacingAndGlyphs">1</text>
<text x="201.20" y="266.42" font-size="7.0" text-anchor="start" fill="#333" stroke="#333" stroke-width="0.15" font-weight="normal" textLength="40.50" lengthAdjust="spacingAndGlyphs">LMO2::RAG2</text>
<line x1="245.00" y1="272.44" x2="248.50" y2="272.44" stroke="#222" stroke-width="1"/>
<rect x="248.50" y="270.04" width="0.91" height="4.80" fill="#32aa32"/>
<text x="252.91" y="274.33" font-size="7.2" text-anchor="start" fill="#333" stroke="#333" stroke-width="0.15" font-weight="normal" textLength="3.72" lengthAdjust="spacingAndGlyphs">1</text>
<text x="221.40" y="274.63" font-size="7.0" fill="#333" stroke="#333" stroke-width="0.15"><tspan textLength="14.20" lengthAdjust="spacingAndGlyphs">WT1</tspan><tspan font-size="3.9" dx="0.6" dy="-2.3" stroke-width="0.1" textLength="6.00" lengthAdjust="spacingAndGlyphs">del</tspan></text>
<line x1="245.00" y1="280.65" x2="248.50" y2="280.65" stroke="#222" stroke-width="1"/>
<rect x="248.50" y="278.25" width="0.91" height="4.80" fill="#32aa32"/>
<text x="252.91" y="282.55" font-size="7.2" text-anchor="start" fill="#333" stroke="#333" stroke-width="0.15" font-weight="normal" textLength="3.72" lengthAdjust="spacingAndGlyphs">1</text>
<text x="213.30" y="282.85" font-size="7.0" fill="#333" stroke="#333" stroke-width="0.15"><tspan textLength="22.30" lengthAdjust="spacingAndGlyphs">RUNX1</tspan><tspan font-size="3.9" dx="0.6" dy="-2.3" stroke-width="0.1" textLength="6.00" lengthAdjust="spacingAndGlyphs">del</tspan></text>
<line x1="245.00" y1="288.87" x2="248.50" y2="288.87" stroke="#222" stroke-width="1"/>
<rect x="248.50" y="286.47" width="0.91" height="4.80" fill="#32aa32"/>
<text x="252.91" y="290.76" font-size="7.2" text-anchor="start" fill="#333" stroke="#333" stroke-width="0.15" font-weight="normal" textLength="3.72" lengthAdjust="spacingAndGlyphs">1</text>
<text x="212.40" y="291.06" font-size="7.0" fill="#333" stroke="#333" stroke-width="0.15"><tspan textLength="19.70" lengthAdjust="spacingAndGlyphs">SH2B3</tspan><tspan font-size="3.9" dx="0.6" dy="-2.3" stroke-width="0.1" textLength="9.50" lengthAdjust="spacingAndGlyphs">UPD</tspan></text>
<line x1="245.00" y1="297.08" x2="248.50" y2="297.08" stroke="#222" stroke-width="1"/>
<rect x="248.50" y="294.68" width="2.72" height="4.80" fill="#32aa32"/>
<text x="254.72" y="298.98" font-size="7.2" text-anchor="start" fill="#333" stroke="#333" stroke-width="0.15" font-weight="normal" textLength="3.72" lengthAdjust="spacingAndGlyphs">3</text>
<text x="196.40" y="299.28" font-size="7.0" text-anchor="start" fill="#333" stroke="#333" stroke-width="0.15" font-weight="normal" textLength="45.30" lengthAdjust="spacingAndGlyphs">chromothripsis</text>
<line x1="245.00" y1="305.29" x2="248.50" y2="305.29" stroke="#222" stroke-width="1"/>
<text x="252.00" y="307.19" font-size="7.2" text-anchor="start" fill="#333" stroke="#333" stroke-width="0.15" font-weight="normal" textLength="3.72" lengthAdjust="spacingAndGlyphs">0</text>
<text x="215.10" y="307.49" font-size="7.0" fill="#333" stroke="#333" stroke-width="0.15"><tspan textLength="20.50" lengthAdjust="spacingAndGlyphs">SH2B3</tspan><tspan font-size="3.9" dx="0.6" dy="-2.3" stroke-width="0.1" textLength="6.00" lengthAdjust="spacingAndGlyphs">del</tspan></text>
<text x="406.20" y="22.90" font-size="9.4" text-anchor="start" fill="#333" stroke="#333" stroke-width="0.15" font-weight="normal" textLength="21.49" lengthAdjust="spacingAndGlyphs">Adult</text>
<text x="431.10" y="22.90" font-size="9.4" text-anchor="start" fill="#333" stroke="#333" stroke-width="0.15" font-weight="normal" textLength="23.98" lengthAdjust="spacingAndGlyphs">T-ALL</text>
<text x="458.00" y="22.90" font-size="9.4" text-anchor="start" fill="#333" stroke="#333" stroke-width="0.15" font-weight="normal" textLength="7.69" lengthAdjust="spacingAndGlyphs">(n</text>
<text x="468.90" y="22.90" font-size="9.4" text-anchor="start" fill="#333" stroke="#333" stroke-width="0.15" font-weight="normal" textLength="4.13" lengthAdjust="spacingAndGlyphs">=</text>
<text x="476.60" y="22.90" font-size="9.4" text-anchor="start" fill="#333" stroke="#333" stroke-width="0.15" font-weight="normal" textLength="17.41" lengthAdjust="spacingAndGlyphs">182)</text>
<line x1="416.40" y1="27.90" x2="416.40" y2="310.80" stroke="#222" stroke-width="1.1"/>
<line x1="415.90" y1="310.20" x2="507.10" y2="310.20" stroke="#222" stroke-width="1.1"/>
<line x1="416.40" y1="310.20" x2="416.40" y2="313.80" stroke="#222" stroke-width="0.9"/>
<line x1="420.94" y1="310.20" x2="420.94" y2="312.60" stroke="#222" stroke-width="0.9"/>
<line x1="425.47" y1="310.20" x2="425.47" y2="312.60" stroke="#222" stroke-width="0.9"/>
<line x1="430.00" y1="310.20" x2="430.00" y2="312.60" stroke="#222" stroke-width="0.9"/>
<line x1="434.54" y1="310.20" x2="434.54" y2="312.60" stroke="#222" stroke-width="0.9"/>
<line x1="439.07" y1="310.20" x2="439.07" y2="312.60" stroke="#222" stroke-width="0.9"/>
<line x1="443.61" y1="310.20" x2="443.61" y2="312.60" stroke="#222" stroke-width="0.9"/>
<line x1="448.14" y1="310.20" x2="448.14" y2="312.60" stroke="#222" stroke-width="0.9"/>
<line x1="452.68" y1="310.20" x2="452.68" y2="312.60" stroke="#222" stroke-width="0.9"/>
<line x1="457.21" y1="310.20" x2="457.21" y2="312.60" stroke="#222" stroke-width="0.9"/>
<line x1="461.75" y1="310.20" x2="461.75" y2="313.80" stroke="#222" stroke-width="0.9"/>
<line x1="466.28" y1="310.20" x2="466.28" y2="312.60" stroke="#222" stroke-width="0.9"/>
<line x1="470.82" y1="310.20" x2="470.82" y2="312.60" stroke="#222" stroke-width="0.9"/>
<line x1="475.35" y1="310.20" x2="475.35" y2="312.60" stroke="#222" stroke-width="0.9"/>
<line x1="479.89" y1="310.20" x2="479.89" y2="312.60" stroke="#222" stroke-width="0.9"/>
<line x1="484.42" y1="310.20" x2="484.42" y2="312.60" stroke="#222" stroke-width="0.9"/>
<line x1="488.96" y1="310.20" x2="488.96" y2="312.60" stroke="#222" stroke-width="0.9"/>
<line x1="493.50" y1="310.20" x2="493.50" y2="312.60" stroke="#222" stroke-width="0.9"/>
<line x1="498.03" y1="310.20" x2="498.03" y2="312.60" stroke="#222" stroke-width="0.9"/>
<line x1="502.56" y1="310.20" x2="502.56" y2="312.60" stroke="#222" stroke-width="0.9"/>
<line x1="507.10" y1="310.20" x2="507.10" y2="313.80" stroke="#222" stroke-width="0.9"/>
<text x="416.40" y="323.00" font-size="7.0" text-anchor="middle" fill="#333" stroke="#333" stroke-width="0.15" font-weight="normal" textLength="3.78" lengthAdjust="spacingAndGlyphs">0</text>
<text x="461.75" y="323.00" font-size="7.0" text-anchor="middle" fill="#333" stroke="#333" stroke-width="0.15" font-weight="normal" textLength="7.55" lengthAdjust="spacingAndGlyphs">50</text>
<text x="507.10" y="323.00" font-size="7.0" text-anchor="middle" fill="#333" stroke="#333" stroke-width="0.15" font-weight="normal" textLength="11.33" lengthAdjust="spacingAndGlyphs">100</text>
<text x="440.80" y="334.90" font-size="8.4" text-anchor="start" fill="#333" stroke="#333" stroke-width="0.15" font-weight="normal" textLength="42.22" lengthAdjust="spacingAndGlyphs">Incidence (%)</text>
<line x1="412.90" y1="34.20" x2="416.40" y2="34.20" stroke="#222" stroke-width="1"/>
<rect x="416.40" y="31.80" width="58.95" height="4.80" fill="#c80523"/>
<text x="478.85" y="36.10" font-size="7.2" text-anchor="start" fill="#333" stroke="#333" stroke-width="0.15" font-weight="normal" textLength="7.45" lengthAdjust="spacingAndGlyphs">65</text>
<text x="368.30" y="36.40" font-size="7.0" fill="#333" stroke="#333" stroke-width="0.15"><tspan textLength="35.30" lengthAdjust="spacingAndGlyphs">CDKN2A/B</tspan><tspan font-size="3.9" dx="0.6" dy="-2.3" stroke-width="0.1" textLength="6.00" lengthAdjust="spacingAndGlyphs">del</tspan></text>
<line x1="412.90" y1="42.42" x2="416.40" y2="42.42" stroke="#222" stroke-width="1"/>
<rect x="416.40" y="40.02" width="19.95" height="4.80" fill="#c80523"/>
<text x="439.85" y="44.32" font-size="7.2" text-anchor="start" fill="#333" stroke="#333" stroke-width="0.15" font-weight="normal" textLength="7.45" lengthAdjust="spacingAndGlyphs">22</text>
<text x="365.50" y="44.62" font-size="7.0" fill="#333" stroke="#333" stroke-width="0.15"><tspan textLength="34.60" lengthAdjust="spacingAndGlyphs">CDKN2A/B</tspan><tspan font-size="3.9" dx="0.6" dy="-2.3" stroke-width="0.1" textLength="9.50" lengthAdjust="spacingAndGlyphs">UPD</tspan></text>
<line x1="412.90" y1="50.63" x2="416.40" y2="50.63" stroke="#222" stroke-width="1"/>
<rect x="416.40" y="48.23" width="16.33" height="4.80" fill="#c80523"/>
<text x="436.23" y="52.53" font-size="7.2" text-anchor="start" fill="#333" stroke="#333" stroke-width="0.15" font-weight="normal" textLength="7.45" lengthAdjust="spacingAndGlyphs">18</text>
<polygon points="448.07,48.48 448.59,49.72 449.93,49.83 448.91,50.70 449.22,52.01 448.07,51.31 446.93,52.01 447.24,50.70 446.22,49.83 447.56,49.72" fill="#1a1a1a"/>
<text x="368.00" y="52.83" font-size="7.0" fill="#333" stroke="#333" stroke-width="0.15"><tspan textLength="35.60" lengthAdjust="spacingAndGlyphs">RB1/DLEU1</tspan><tspan font-size="3.9" dx="0.6" dy="-2.3" stroke-width="0.1" textLength="6.00" lengthAdjust="spacingAndGlyphs">del</tspan></text>
<line x1="412.90" y1="58.84" x2="416.40" y2="58.84" stroke="#222" stroke-width="1"/>
<rect x="416.40" y="56.45" width="9.07" height="4.80" fill="#c80523"/>
<text x="428.97" y="60.74" font-size="7.2" text-anchor="start" fill="#333" stroke="#333" stroke-width="0.15" font-weight="normal" textLength="7.45" lengthAdjust="spacingAndGlyphs">10</text>
<text x="369.60" y="61.05" font-size="7.0" fill="#333" stroke="#333" stroke-width="0.15"><tspan textLength="34.00" lengthAdjust="spacingAndGlyphs">CASP8AP2</tspan><tspan font-size="3.9" dx="0.6" dy="-2.3" stroke-width="0.1" textLength="6.00" lengthAdjust="spacingAndGlyphs">del</tspan></text>
<line x1="412.90" y1="67.06" x2="416.40" y2="67.06" stroke="#222" stroke-width="1"/>
<rect x="416.40" y="64.66" width="8.16" height="4.80" fill="#c80523"/>
<text x="428.06" y="68.96" font-size="7.2" text-anchor="start" fill="#333" stroke="#333" stroke-width="0.15" font-weight="normal" textLength="3.72" lengthAdjust="spacingAndGlyphs">9</text>
<text x="383.10" y="69.26" font-size="7.0" text-anchor="start" fill="#333" stroke="#333" stroke-width="0.15" font-weight="normal" textLength="26.60" lengthAdjust="spacingAndGlyphs">SIL-TAL1</text>
<line x1="412.90" y1="75.28" x2="416.40" y2="75.28" stroke="#222" stroke-width="1"/>
<rect x="416.40" y="72.88" width="10.88" height="4.80" fill="#c80523"/>
<text x="430.78" y="77.18" font-size="7.2" text-anchor="start" fill="#333" stroke="#333" stroke-width="0.15" font-weight="normal" textLength="7.45" lengthAdjust="spacingAndGlyphs">12</text>
<text x="357.20" y="77.48" font-size="7.0" fill="#333" stroke="#333" stroke-width="0.15"><tspan textLength="46.40" lengthAdjust="spacingAndGlyphs">ETV6/CDKN1B</tspan><tspan font-size="3.9" dx="0.6" dy="-2.3" stroke-width="0.1" textLength="6.00" lengthAdjust="spacingAndGlyphs">del</tspan></text>
<line x1="412.90" y1="83.49" x2="416.40" y2="83.49" stroke="#222" stroke-width="1"/>
<rect x="416.40" y="81.09" width="10.88" height="4.80" fill="#c80523"/>
<text x="430.78" y="85.39" font-size="7.2" text-anchor="start" fill="#333" stroke="#333" stroke-width="0.15" font-weight="normal" textLength="7.45" lengthAdjust="spacingAndGlyphs">12</text>
<polygon points="442.63,81.34 443.15,82.58 444.49,82.69 443.47,83.56 443.78,84.87 442.63,84.17 441.49,84.87 441.80,83.56 440.78,82.69 442.12,82.58" fill="#1a1a1a"/>
<text x="384.20" y="85.69" font-size="7.0" fill="#333" stroke="#333" stroke-width="0.15"><tspan textLength="19.40" lengthAdjust="spacingAndGlyphs">RPL22</tspan><tspan font-size="3.9" dx="0.6" dy="-2.3" stroke-width="0.1" textLength="6.00" lengthAdjust="spacingAndGlyphs">del</tspan></text>
<line x1="412.90" y1="91.70" x2="416.40" y2="91.70" stroke="#222" stroke-width="1"/>
<rect x="416.40" y="89.30" width="9.98" height="4.80" fill="#c80523"/>
<text x="429.88" y="93.61" font-size="7.2" text-anchor="start" fill="#333" stroke="#333" stroke-width="0.15" font-weight="normal" textLength="6.95" lengthAdjust="spacingAndGlyphs">11</text>
<text x="382.90" y="93.91" font-size="7.0" fill="#333" stroke="#333" stroke-width="0.15"><tspan textLength="20.70" lengthAdjust="spacingAndGlyphs">PTPN2</tspan><tspan font-size="3.9" dx="0.6" dy="-2.3" stroke-width="0.1" textLength="6.00" lengthAdjust="spacingAndGlyphs">del</tspan></text>
<line x1="412.90" y1="99.92" x2="416.40" y2="99.92" stroke="#222" stroke-width="1"/>
<rect x="416.40" y="97.52" width="9.07" height="4.80" fill="#c80523"/>
<text x="428.97" y="101.82" font-size="7.2" text-anchor="start" fill="#333" stroke="#333" stroke-width="0.15" font-weight="normal" textLength="7.45" lengthAdjust="spacingAndGlyphs">10</text>
<text x="368.10" y="102.12" font-size="7.0" fill="#333" stroke="#333" stroke-width="0.15"><tspan textLength="35.50" lengthAdjust="spacingAndGlyphs">NF1/SUZ12</tspan><tspan font-size="3.9" dx="0.6" dy="-2.3" stroke-width="0.1" textLength="6.00" lengthAdjust="spacingAndGlyphs">del</tspan></text>
<line x1="412.90" y1="108.14" x2="416.40" y2="108.14" stroke="#222" stroke-width="1"/>
<rect x="416.40" y="105.73" width="6.35" height="4.80" fill="#c80523"/>
<text x="426.25" y="110.04" font-size="7.2" text-anchor="start" fill="#333" stroke="#333" stroke-width="0.15" font-weight="normal" textLength="3.72" lengthAdjust="spacingAndGlyphs">7</text>
<text x="388.50" y="110.34" font-size="7.0" fill="#333" stroke="#333" stroke-width="0.15"><tspan textLength="15.10" lengthAdjust="spacingAndGlyphs">LEF1</tspan><tspan font-size="3.9" dx="0.6" dy="-2.3" stroke-width="0.1" textLength="6.00" lengthAdjust="spacingAndGlyphs">del</tspan></text>
<line x1="412.90" y1="116.35" x2="416.40" y2="116.35" stroke="#222" stroke-width="1"/>
<rect x="416.40" y="113.95" width="6.35" height="4.80" fill="#c80523"/>
<text x="426.25" y="118.25" font-size="7.2" text-anchor="start" fill="#333" stroke="#333" stroke-width="0.15" font-weight="normal" textLength="3.72" lengthAdjust="spacingAndGlyphs">7</text>
<text x="368.80" y="118.55" font-size="7.0" fill="#333" stroke="#333" stroke-width="0.15"><tspan textLength="32.29" lengthAdjust="spacingAndGlyphs">MYB/AHI1</tspan><tspan font-size="3.9" dx="0.6" dy="-2.3" stroke-width="0.1" textLength="8.51" lengthAdjust="spacingAndGlyphs">gain</tspan></text>
<line x1="412.90" y1="124.56" x2="416.40" y2="124.56" stroke="#222" stroke-width="1"/>
<rect x="416.40" y="122.16" width="4.54" height="4.80" fill="#c80523"/>
<text x="424.44" y="126.47" font-size="7.2" text-anchor="start" fill="#333" stroke="#333" stroke-width="0.15" font-weight="normal" textLength="3.72" lengthAdjust="spacingAndGlyphs">5</text>
<text x="386.30" y="126.77" font-size="7.0" fill="#333" stroke="#333" stroke-width="0.15"><tspan textLength="17.30" lengthAdjust="spacingAndGlyphs">CTCF</tspan><tspan font-size="3.9" dx="0.6" dy="-2.3" stroke-width="0.1" textLength="6.00" lengthAdjust="spacingAndGlyphs">del</tspan></text>
<line x1="412.90" y1="132.78" x2="416.40" y2="132.78" stroke="#222" stroke-width="1"/>
<rect x="416.40" y="130.38" width="7.26" height="4.80" fill="#c80523"/>
<text x="427.16" y="134.68" font-size="7.2" text-anchor="start" fill="#333" stroke="#333" stroke-width="0.15" font-weight="normal" textLength="3.72" lengthAdjust="spacingAndGlyphs">8</text>
<text x="383.10" y="134.98" font-size="7.0" fill="#333" stroke="#333" stroke-width="0.15"><tspan textLength="20.50" lengthAdjust="spacingAndGlyphs">DNM2</tspan><tspan font-size="3.9" dx="0.6" dy="-2.3" stroke-width="0.1" textLength="6.00" lengthAdjust="spacingAndGlyphs">del</tspan></text>
<line x1="412.90" y1="141.00" x2="416.40" y2="141.00" stroke="#222" stroke-width="1"/>
<rect x="416.40" y="138.59" width="4.54" height="4.80" fill="#c80523"/>
<text x="424.44" y="142.90" font-size="7.2" text-anchor="start" fill="#333" stroke="#333" stroke-width="0.15" font-weight="normal" textLength="3.72" lengthAdjust="spacingAndGlyphs">5</text>
<text x="378.20" y="143.19" font-size="7.0" text-anchor="start" fill="#333" stroke="#333" stroke-width="0.15" font-weight="normal" textLength="31.50" lengthAdjust="spacingAndGlyphs">trisomy 19</text>
<line x1="412.90" y1="149.21" x2="416.40" y2="149.21" stroke="#222" stroke-width="1"/>
<rect x="416.40" y="146.81" width="4.54" height="4.80" fill="#c80523"/>
<text x="424.44" y="151.11" font-size="7.2" text-anchor="start" fill="#333" stroke="#333" stroke-width="0.15" font-weight="normal" textLength="3.72" lengthAdjust="spacingAndGlyphs">5</text>
<text x="378.80" y="151.41" font-size="7.0" fill="#333" stroke="#333" stroke-width="0.15"><tspan textLength="24.80" lengthAdjust="spacingAndGlyphs">PICALM</tspan><tspan font-size="3.9" dx="0.6" dy="-2.3" stroke-width="0.1" textLength="6.00" lengthAdjust="spacingAndGlyphs">del</tspan></text>
<line x1="412.90" y1="157.43" x2="416.40" y2="157.43" stroke="#222" stroke-width="1"/>
<rect x="416.40" y="155.03" width="4.54" height="4.80" fill="#c80523"/>
<text x="424.44" y="159.33" font-size="7.2" text-anchor="start" fill="#333" stroke="#333" stroke-width="0.15" font-weight="normal" textLength="3.72" lengthAdjust="spacingAndGlyphs">5</text>
<text x="378.20" y="159.62" font-size="7.0" fill="#333" stroke="#333" stroke-width="0.15"><tspan textLength="25.40" lengthAdjust="spacingAndGlyphs">CREEBP</tspan><tspan font-size="3.9" dx="0.6" dy="-2.3" stroke-width="0.1" textLength="6.00" lengthAdjust="spacingAndGlyphs">del</tspan></text>
<line x1="412.90" y1="165.64" x2="416.40" y2="165.64" stroke="#222" stroke-width="1"/>
<rect x="416.40" y="163.24" width="3.63" height="4.80" fill="#c80523"/>
<text x="423.53" y="167.54" font-size="7.2" text-anchor="start" fill="#333" stroke="#333" stroke-width="0.15" font-weight="normal" textLength="3.72" lengthAdjust="spacingAndGlyphs">4</text>
<text x="386.20" y="167.84" font-size="7.0" fill="#333" stroke="#333" stroke-width="0.15"><tspan textLength="17.40" lengthAdjust="spacingAndGlyphs">IKZF1</tspan><tspan font-size="3.9" dx="0.6" dy="-2.3" stroke-width="0.1" textLength="6.00" lengthAdjust="spacingAndGlyphs">del</tspan></text>
<line x1="412.90" y1="173.86" x2="416.40" y2="173.86" stroke="#222" stroke-width="1"/>
<rect x="416.40" y="171.46" width="3.63" height="4.80" fill="#c80523"/>
<text x="423.53" y="175.76" font-size="7.2" text-anchor="start" fill="#333" stroke="#333" stroke-width="0.15" font-weight="normal" textLength="3.72" lengthAdjust="spacingAndGlyphs">4</text>
<text x="381.90" y="176.06" font-size="7.0" text-anchor="start" fill="#333" stroke="#333" stroke-width="0.15" font-weight="normal" textLength="27.80" lengthAdjust="spacingAndGlyphs">trisomy 8</text>
<line x1="412.90" y1="182.07" x2="416.40" y2="182.07" stroke="#222" stroke-width="1"/>
<rect x="416.40" y="179.67" width="2.72" height="4.80" fill="#c80523"/>
<text x="422.62" y="183.97" font-size="7.2" text-anchor="start" fill="#333" stroke="#333" stroke-width="0.15" font-weight="normal" textLength="3.72" lengthAdjust="spacingAndGlyphs">3</text>
<text x="386.20" y="184.27" font-size="7.0" fill="#333" stroke="#333" stroke-width="0.15"><tspan textLength="17.40" lengthAdjust="spacingAndGlyphs">PTEN</tspan><tspan font-size="3.9" dx="0.6" dy="-2.3" stroke-width="0.1" textLength="6.00" lengthAdjust="spacingAndGlyphs">del</tspan></text>
<line x1="412.90" y1="190.29" x2="416.40" y2="190.29" stroke="#222" stroke-width="1"/>
<rect x="416.40" y="187.89" width="2.72" height="4.80" fill="#c80523"/>
<text x="422.62" y="192.19" font-size="7.2" text-anchor="start" fill="#333" stroke="#333" stroke-width="0.15" font-weight="normal" textLength="3.72" lengthAdjust="spacingAndGlyphs">3</text>
<text x="388.10" y="192.49" font-size="7.0" fill="#333" stroke="#333" stroke-width="0.15"><tspan textLength="15.50" lengthAdjust="spacingAndGlyphs">TP53</tspan><tspan font-size="3.9" dx="0.6" dy="-2.3" stroke-width="0.1" textLength="6.00" lengthAdjust="spacingAndGlyphs">del</tspan></text>
<line x1="412.90" y1="198.50" x2="416.40" y2="198.50" stroke="#222" stroke-width="1"/>
<rect x="416.40" y="196.10" width="2.72" height="4.80" fill="#c80523"/>
<text x="422.62" y="200.40" font-size="7.2" text-anchor="start" fill="#333" stroke="#333" stroke-width="0.15" font-weight="normal" textLength="3.72" lengthAdjust="spacingAndGlyphs">3</text>
<text x="380.60" y="200.70" font-size="7.0" fill="#333" stroke="#333" stroke-width="0.15"><tspan textLength="20.49" lengthAdjust="spacingAndGlyphs">MLLT4</tspan><tspan font-size="3.9" dx="0.6" dy="-2.3" stroke-width="0.1" textLength="8.51" lengthAdjust="spacingAndGlyphs">gain</tspan></text>
<line x1="412.90" y1="206.71" x2="416.40" y2="206.71" stroke="#222" stroke-width="1"/>
<rect x="416.40" y="204.31" width="3.63" height="4.80" fill="#c80523"/>
<text x="423.53" y="208.61" font-size="7.2" text-anchor="start" fill="#333" stroke="#333" stroke-width="0.15" font-weight="normal" textLength="3.72" lengthAdjust="spacingAndGlyphs">4</text>
<text x="364.20" y="208.91" font-size="7.0" text-anchor="start" fill="#333" stroke="#333" stroke-width="0.15" font-weight="normal" textLength="45.50" lengthAdjust="spacingAndGlyphs">NUP214::ABL1</text>
<line x1="412.90" y1="214.93" x2="416.40" y2="214.93" stroke="#222" stroke-width="1"/>
<rect x="416.40" y="212.53" width="4.54" height="4.80" fill="#c80523"/>
<text x="424.44" y="216.83" font-size="7.2" text-anchor="start" fill="#333" stroke="#333" stroke-width="0.15" font-weight="normal" textLength="3.72" lengthAdjust="spacingAndGlyphs">5</text>
<text x="369.20" y="218.33" font-size="7.0" fill="#333" stroke="#333" stroke-width="0.15"><tspan textLength="24.64" lengthAdjust="spacingAndGlyphs">BCL11B</tspan><tspan font-size="3.9" dx="0.6" dy="-2.3" stroke-width="0.1" textLength="15.76" lengthAdjust="spacingAndGlyphs">del/gain</tspan></text>
<line x1="412.90" y1="223.14" x2="416.40" y2="223.14" stroke="#222" stroke-width="1"/>
<rect x="416.40" y="220.74" width="3.63" height="4.80" fill="#c80523"/>
<text x="423.53" y="225.04" font-size="7.2" text-anchor="start" fill="#333" stroke="#333" stroke-width="0.15" font-weight="normal" textLength="3.72" lengthAdjust="spacingAndGlyphs">4</text>
<text x="378.20" y="225.34" font-size="7.0" text-anchor="start" fill="#333" stroke="#333" stroke-width="0.15" font-weight="normal" textLength="31.50" lengthAdjust="spacingAndGlyphs">trisomy 20</text>
<line x1="412.90" y1="231.36" x2="416.40" y2="231.36" stroke="#222" stroke-width="1"/>
<rect x="416.40" y="228.96" width="2.72" height="4.80" fill="#c80523"/>
<text x="422.62" y="233.26" font-size="7.2" text-anchor="start" fill="#333" stroke="#333" stroke-width="0.15" font-weight="normal" textLength="3.72" lengthAdjust="spacingAndGlyphs">3</text>
<text x="388.50" y="233.56" font-size="7.0" fill="#333" stroke="#333" stroke-width="0.15"><tspan textLength="15.10" lengthAdjust="spacingAndGlyphs">TLX3</tspan><tspan font-size="3.9" dx="0.6" dy="-2.3" stroke-width="0.1" textLength="6.00" lengthAdjust="spacingAndGlyphs">del</tspan></text>
<line x1="412.90" y1="239.57" x2="416.40" y2="239.57" stroke="#222" stroke-width="1"/>
<rect x="416.40" y="237.17" width="2.72" height="4.80" fill="#c80523"/>
<text x="422.62" y="241.47" font-size="7.2" text-anchor="start" fill="#333" stroke="#333" stroke-width="0.15" font-weight="normal" textLength="3.72" lengthAdjust="spacingAndGlyphs">3</text>
<text x="378.20" y="241.77" font-size="7.0" text-anchor="start" fill="#333" stroke="#333" stroke-width="0.15" font-weight="normal" textLength="31.50" lengthAdjust="spacingAndGlyphs">trisomy 21</text>
<line x1="412.90" y1="247.79" x2="416.40" y2="247.79" stroke="#222" stroke-width="1"/>
<rect x="416.40" y="245.39" width="2.72" height="4.80" fill="#c80523"/>
<text x="422.62" y="249.69" font-size="7.2" text-anchor="start" fill="#333" stroke="#333" stroke-width="0.15" font-weight="normal" textLength="3.72" lengthAdjust="spacingAndGlyphs">3</text>
<text x="387.10" y="249.99" font-size="7.0" fill="#333" stroke="#333" stroke-width="0.15"><tspan textLength="16.50" lengthAdjust="spacingAndGlyphs">PHF6</tspan><tspan font-size="3.9" dx="0.6" dy="-2.3" stroke-width="0.1" textLength="6.00" lengthAdjust="spacingAndGlyphs">del</tspan></text>
<line x1="412.90" y1="256.00" x2="416.40" y2="256.00" stroke="#222" stroke-width="1"/>
<rect x="416.40" y="253.60" width="3.63" height="4.80" fill="#c80523"/>
<text x="423.53" y="257.90" font-size="7.2" text-anchor="start" fill="#333" stroke="#333" stroke-width="0.15" font-weight="normal" textLength="3.72" lengthAdjust="spacingAndGlyphs">4</text>
<text x="368.80" y="258.20" font-size="7.0" text-anchor="start" fill="#333" stroke="#333" stroke-width="0.15" font-weight="normal" textLength="40.90" lengthAdjust="spacingAndGlyphs">SET::NUP214</text>
<line x1="412.90" y1="264.22" x2="416.40" y2="264.22" stroke="#222" stroke-width="1"/>
<rect x="416.40" y="261.82" width="2.72" height="4.80" fill="#c80523"/>
<text x="422.62" y="266.12" font-size="7.2" text-anchor="start" fill="#333" stroke="#333" stroke-width="0.15" font-weight="normal" textLength="3.72" lengthAdjust="spacingAndGlyphs">3</text>
<text x="369.20" y="266.42" font-size="7.0" text-anchor="start" fill="#333" stroke="#333" stroke-width="0.15" font-weight="normal" textLength="40.50" lengthAdjust="spacingAndGlyphs">LMO2::RAG2</text>
<line x1="412.90" y1="272.44" x2="416.40" y2="272.44" stroke="#222" stroke-width="1"/>
<rect x="416.40" y="270.04" width="2.72" height="4.80" fill="#c80523"/>
<text x="422.62" y="274.33" font-size="7.2" text-anchor="start" fill="#333" stroke="#333" stroke-width="0.15" font-weight="normal" textLength="3.72" lengthAdjust="spacingAndGlyphs">3</text>
<text x="389.40" y="274.63" font-size="7.0" fill="#333" stroke="#333" stroke-width="0.15"><tspan textLength="14.20" lengthAdjust="spacingAndGlyphs">WT1</tspan><tspan font-size="3.9" dx="0.6" dy="-2.3" stroke-width="0.1" textLength="6.00" lengthAdjust="spacingAndGlyphs">del</tspan></text>
<line x1="412.90" y1="280.65" x2="416.40" y2="280.65" stroke="#222" stroke-width="1"/>
<rect x="416.40" y="278.25" width="2.72" height="4.80" fill="#c80523"/>
<text x="422.62" y="282.55" font-size="7.2" text-anchor="start" fill="#333" stroke="#333" stroke-width="0.15" font-weight="normal" textLength="3.72" lengthAdjust="spacingAndGlyphs">3</text>
<text x="381.30" y="282.85" font-size="7.0" fill="#333" stroke="#333" stroke-width="0.15"><tspan textLength="22.30" lengthAdjust="spacingAndGlyphs">RUNX1</tspan><tspan font-size="3.9" dx="0.6" dy="-2.3" stroke-width="0.1" textLength="6.00" lengthAdjust="spacingAndGlyphs">del</tspan></text>
<line x1="412.90" y1="288.87" x2="416.40" y2="288.87" stroke="#222" stroke-width="1"/>
<rect x="416.40" y="286.47" width="1.81" height="4.80" fill="#c80523"/>
<text x="421.71" y="290.76" font-size="7.2" text-anchor="start" fill="#333" stroke="#333" stroke-width="0.15" font-weight="normal" textLength="3.72" lengthAdjust="spacingAndGlyphs">2</text>
<text x="380.40" y="291.06" font-size="7.0" fill="#333" stroke="#333" stroke-width="0.15"><tspan textLength="19.70" lengthAdjust="spacingAndGlyphs">SH2B3</tspan><tspan font-size="3.9" dx="0.6" dy="-2.3" stroke-width="0.1" textLength="9.50" lengthAdjust="spacingAndGlyphs">UPD</tspan></text>
<line x1="412.90" y1="297.08" x2="416.40" y2="297.08" stroke="#222" stroke-width="1"/>
<rect x="416.40" y="294.68" width="0.91" height="4.80" fill="#c80523"/>
<text x="420.81" y="298.98" font-size="7.2" text-anchor="start" fill="#333" stroke="#333" stroke-width="0.15" font-weight="normal" textLength="3.72" lengthAdjust="spacingAndGlyphs">1</text>
<text x="364.40" y="299.28" font-size="7.0" text-anchor="start" fill="#333" stroke="#333" stroke-width="0.15" font-weight="normal" textLength="45.30" lengthAdjust="spacingAndGlyphs">chromothripsis</text>
<line x1="412.90" y1="305.29" x2="416.40" y2="305.29" stroke="#222" stroke-width="1"/>
<rect x="416.40" y="302.89" width="2.72" height="4.80" fill="#c80523"/>
<text x="422.62" y="307.19" font-size="7.2" text-anchor="start" fill="#333" stroke="#333" stroke-width="0.15" font-weight="normal" textLength="3.72" lengthAdjust="spacingAndGlyphs">3</text>
<text x="383.10" y="307.49" font-size="7.0" fill="#333" stroke="#333" stroke-width="0.15"><tspan textLength="20.50" lengthAdjust="spacingAndGlyphs">SH2B3</tspan><tspan font-size="3.9" dx="0.6" dy="-2.3" stroke-width="0.1" textLength="6.00" lengthAdjust="spacingAndGlyphs">del</tspan></text>
</svg></div></body></html>
